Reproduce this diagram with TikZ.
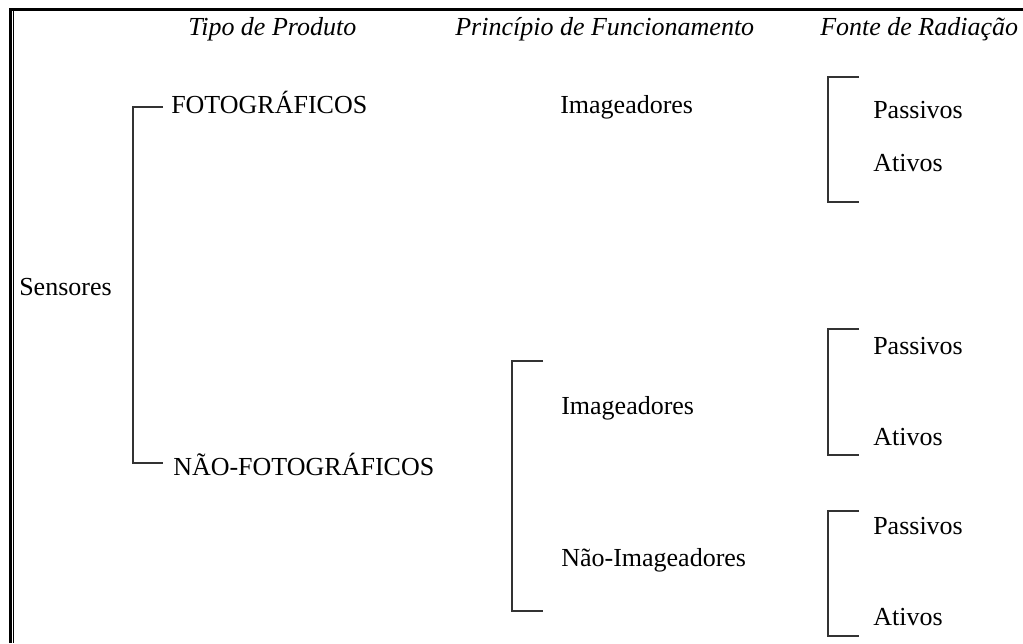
\documentclass[tikz,border=0pt]{standalone}
\usepackage{fontspec}
\setmainfont{Liberation Serif}
\usepackage{tikz}
\usetikzlibrary{calc,positioning}

\begin{document}
\begin{tikzpicture}[x=0.75pt, y=-0.75pt,
    rotulo/.style={anchor=base west, inner sep=0pt, font=\fontsize{19.5}{23}\selectfont},
    titulo/.style={rotulo, font=\fontsize{19.5}{23}\selectfont\itshape},
    chave/.style={draw=black!80, line width=0.8pt}]
        \useasboundingbox (0,0) rectangle (1023,643);
        % Moldura (linha dupla a esquerda, linha grossa em cima)
        \draw[line width=2.4pt] (9,9.5) -- (1023,9.5);
        \draw[line width=2.4pt] (10.5,9) -- (10.5,643);
        \draw[line width=0.9pt] (13.7,11) -- (13.7,643);

        % Cabecalhos das colunas
        \node[titulo] (tipo) at (188,35) {Tipo de Produto};
        \node[titulo] (princ) at (455,35) {Princípio de Funcionamento};
        \node[titulo] (fonte) at (820,35) {Fonte de Radiação};

        % Nos (raiz e tipos de produto)
        \node[rotulo] (sens) at (19,295) {Sensores};
        \node[rotulo] (foto) at (171,113) {FOTOGRÁFICOS};
        \node[rotulo] (nfoto) at (173,475) {NÃO-FOTOGRÁFICOS};

        % Principio de funcionamento
        \node[rotulo] (img1) at (560,113) {Imageadores};
        \node[rotulo] (img2) at (561,414) {Imageadores};
        \node[rotulo] (nimg) at (561,566) {Não-Imageadores};

        % Fonte de radiacao
        \node[rotulo] (pas1) at (873,118) {Passivos};
        \node[rotulo] (ati1) at (873,171) {Ativos};
        \node[rotulo] (pas2) at (873,354) {Passivos};
        \node[rotulo] (ati2) at (873,445) {Ativos};
        \node[rotulo] (pas3) at (873,534) {Passivos};
        \node[rotulo] (ati3) at (873,625) {Ativos};

        % Pontas das chaves
        \coordinate (p1a) at (163,107);
        \coordinate (p1b) at (163,463);
        \coordinate (m1a) at (543,361);
        \coordinate (m1b) at (543,611);
        \coordinate (f1a) at (859,77);
        \coordinate (f1b) at (859,202);
        \coordinate (f2a) at (859,329);
        \coordinate (f2b) at (859,455);
        \coordinate (f3a) at (859,511);
        \coordinate (f3b) at (859,636);

        % Chaves
        \draw[chave] (p1a) -- ++(-30,0) |- (p1b);
        \draw[chave] (m1a) -- ++(-31,0) |- (m1b);
        \draw[chave] (f1a) -- ++(-31,0) |- (f1b);
        \draw[chave] (f2a) -- ++(-31,0) |- (f2b);
        \draw[chave] (f3a) -- ++(-31,0) |- (f3b);
    \end{tikzpicture}
\end{document}
